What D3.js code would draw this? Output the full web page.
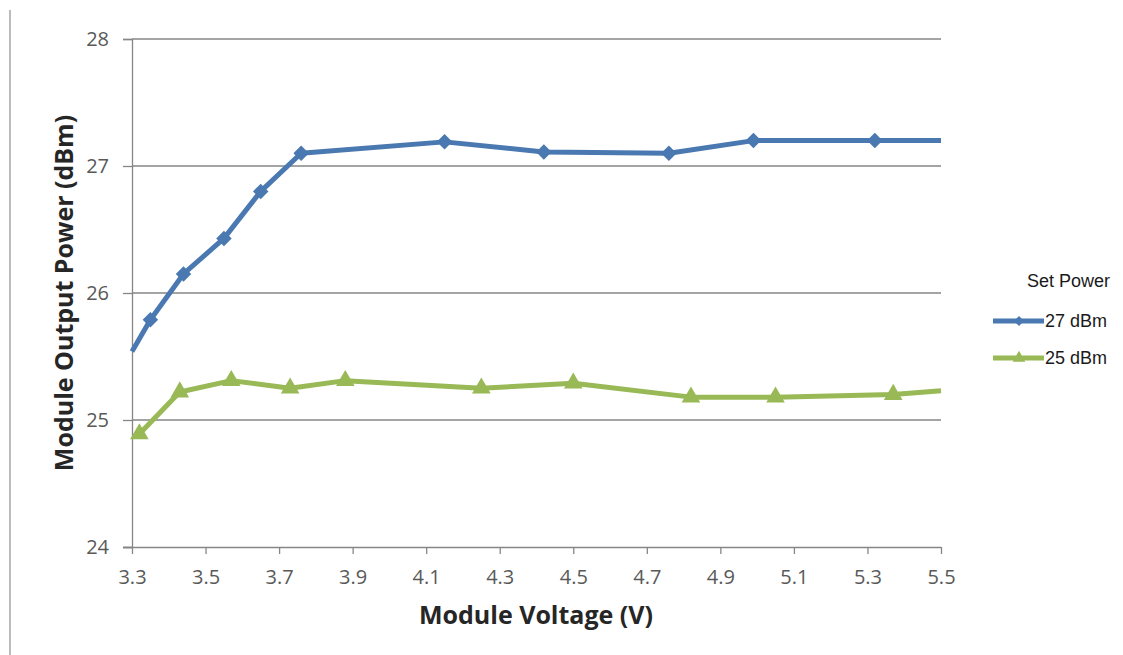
<!DOCTYPE html>
<html lang="en">
<head>
    <meta charset="UTF-8">
    <title>Module Output Power vs Module Voltage</title>
    <script src="https://d3js.org/d3.v7.min.js"></script>
    <style>
        body {
            margin: 0;
            background: #fff;
        }
        svg {
            display: block;
            background: #fff;
        }
        .tick text {
            font-family: "Open Sans", sans-serif;
            font-size: 20px;
            fill: #595959;
        }
        .axis-title {
            font-family: "Open Sans", sans-serif;
            font-weight: bold;
            font-size: 25px;
            fill: #262626;
        }
        .legend text {
            font-family: "Liberation Sans", Arial, sans-serif;
            fill: #1a1a1a;
        }
    </style>
</head>
<body>
    <svg id="chart" width="1123" height="655"></svg>
    <script>
        // values
        const voltage27 = [3.30, 3.35, 3.44, 3.55, 3.65, 3.76, 4.15, 4.42, 4.76, 4.99, 5.32, 5.50];
        const power27 = [25.54, 25.79, 26.15, 26.43, 26.80, 27.10, 27.19, 27.11, 27.10, 27.20, 27.20, 27.20];
        const voltage25 = [3.32, 3.43, 3.57, 3.73, 3.88, 4.25, 4.50, 4.82, 5.05, 5.37, 5.50];
        const power25 = [24.89, 25.22, 25.31, 25.25, 25.31, 25.25, 25.29, 25.18, 25.18, 25.20, 25.23];
        const xTicks = [3.3, 3.5, 3.7, 3.9, 4.1, 4.3, 4.5, 4.7, 4.9, 5.1, 5.3, 5.5];
        const yTicks = [24, 25, 26, 27, 28];
        const seriesNames = ["27 dBm", "25 dBm"];

        const series = [
            { name: seriesNames[0], color: "#4a78b0", marker: "diamond",
              points: voltage27.map((v, i) => ({ v: v, p: power27[i] })) },
            { name: seriesNames[1], color: "#98b955", marker: "triangle",
              points: voltage25.map((v, i) => ({ v: v, p: power25[i] })) }
        ];

        const svg = d3.select("#chart");
        const margin = { top: 39, right: 182, bottom: 108, left: 132 },
              width = 1123 - margin.left - margin.right,
              height = 655 - margin.top - margin.bottom;

        const x = d3.scaleLinear().domain([3.3, 5.5]).range([0, width]);
        const y = d3.scaleLinear().domain([24, 28]).range([height, 0]);

        function markerPath(type, big) {
            if (type === "diamond") {
                return d3.symbol().type(d3.symbolSquare).size(big ? 120 : 50)();
            }
            return d3.symbol().type(d3.symbolTriangle).size(big ? 150 : 70)();
        }

        // thin frame line on the far left of the picture
        svg.append("line")
            .attr("x1", 10).attr("x2", 10)
            .attr("y1", 10).attr("y2", 655)
            .attr("stroke", "#a6a6a6")
            .attr("stroke-width", 1.5);

        const g = svg.append("g").attr("transform", `translate(${margin.left},${margin.top})`);

        // horizontal grid
        g.append("g")
            .selectAll("line")
            .data(yTicks.slice(1))
            .enter()
            .append("line")
            .attr("x1", 0).attr("x2", width)
            .attr("y1", d => y(d)).attr("y2", d => y(d))
            .attr("stroke", "#868686")
            .attr("stroke-width", 1.3);

        const yAxis = g.append("g")
            .call(d3.axisLeft(y).tickValues(yTicks).tickSize(9).tickPadding(14).tickFormat(d3.format("d")));
        const xAxis = g.append("g")
            .attr("transform", `translate(0,${height})`)
            .call(d3.axisBottom(x).tickValues(xTicks).tickSize(7).tickPadding(16).tickFormat(d3.format(".1f")));
        [yAxis, xAxis].forEach(a => {
            a.select(".domain").attr("stroke", "#868686").attr("stroke-width", 1.3);
            a.selectAll(".tick line").attr("stroke", "#868686").attr("stroke-width", 1.3);
        });
        xAxis.select(".domain").attr("d", `M-9,0.5H${width}`);

        const line = d3.line()
            .x(d => x(d.v))
            .y(d => y(d.p));

        series.forEach(s => {
            g.append("path")
                .datum(s.points)
                .attr("fill", "none")
                .attr("stroke", s.color)
                .attr("stroke-width", 5)
                .attr("stroke-linejoin", "round")
                .attr("d", line);
            g.append("g")
                .selectAll("path")
                .data(s.points.filter(d => d.v > 3.3 && d.v < 5.5))
                .enter()
                .append("path")
                .attr("d", markerPath(s.marker, true))
                .attr("transform", d => `translate(${x(d.v)},${y(d.p)})` + (s.marker === "diamond" ? " rotate(45)" : ""))
                .attr("fill", s.color);
        });

        // axis titles
        svg.append("text")
            .attr("class", "axis-title")
            .attr("text-anchor", "middle")
            .attr("transform", `translate(73,${margin.top + height / 2}) rotate(-90)`)
            .text("Module Output Power (dBm)");
        svg.append("text")
            .attr("class", "axis-title")
            .attr("text-anchor", "middle")
            .attr("x", 536)
            .attr("y", 624)
            .text("Module Voltage (V)");

        // legend
        const legend = svg.append("g").attr("class", "legend");
        legend.append("text")
            .attr("x", 1110)
            .attr("y", 287)
            .attr("text-anchor", "end")
            .attr("font-size", 18)
            .text("Set Power");
        const rows = legend.selectAll("g.row")
            .data(series)
            .enter()
            .append("g")
            .attr("class", "row")
            .attr("transform", (d, i) => `translate(0,${321 + i * 37})`);
        rows.append("line")
            .attr("x1", 993).attr("x2", 1044)
            .attr("stroke", d => d.color)
            .attr("stroke-width", 5);
        rows.append("path")
            .attr("d", d => markerPath(d.marker, false))
            .attr("transform", d => "translate(1019,0)" + (d.marker === "diamond" ? " rotate(45)" : ""))
            .attr("fill", d => d.color);
        rows.append("text")
            .attr("x", 1045)
            .attr("y", 6)
            .attr("font-size", 18)
            .text(d => d.name);
    </script>
</body>
</html>
